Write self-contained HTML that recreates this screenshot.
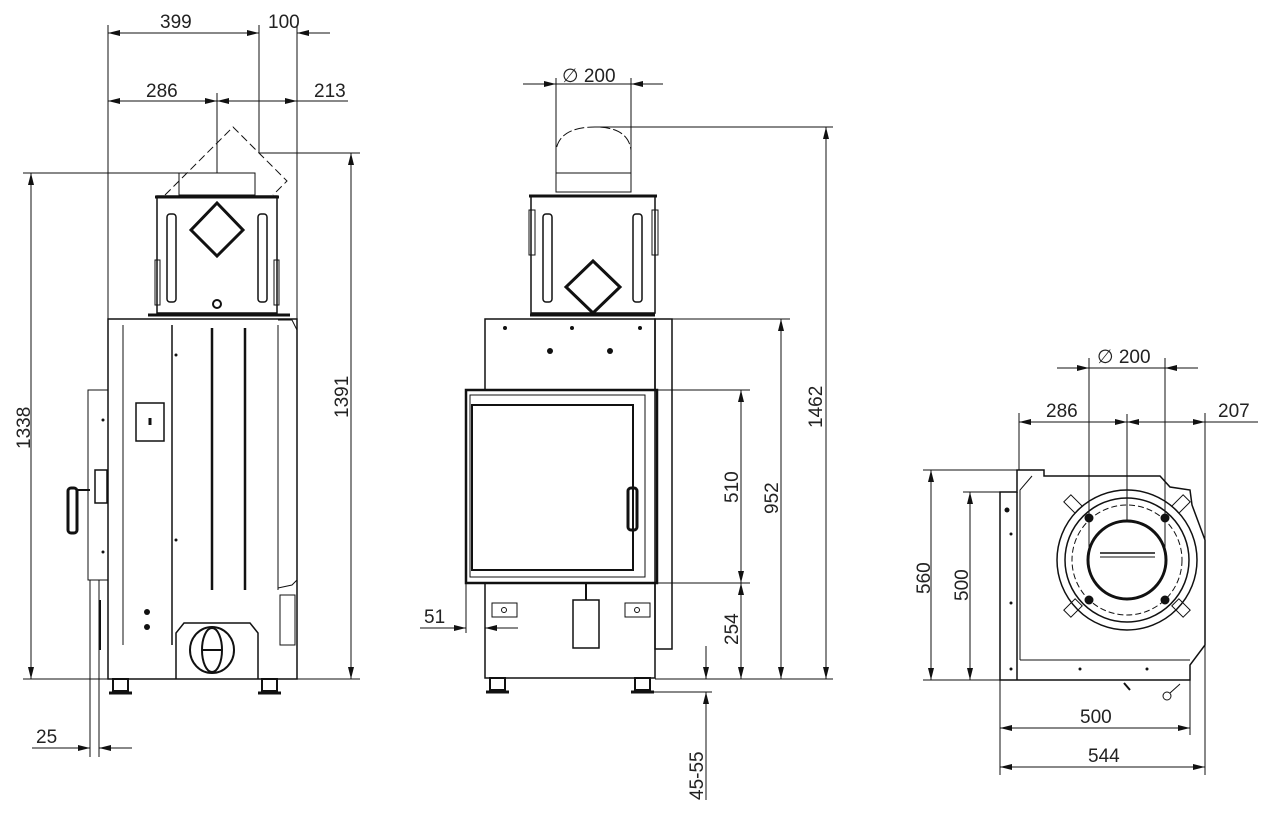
<!DOCTYPE html>
<html><head><meta charset="utf-8"><style>
html,body{margin:0;padding:0;background:#fff;}
svg{display:block;}
text{font-family:"Liberation Sans",sans-serif;font-size:19px;fill:#222;}
</style></head><body>
<svg width="1263" height="813" viewBox="0 0 1263 813" xmlns="http://www.w3.org/2000/svg">
<defs>
<marker id="a" viewBox="0 0 12 6" refX="12" refY="3" markerWidth="12" markerHeight="6" orient="auto-start-reverse" markerUnits="userSpaceOnUse"><path d="M0,0 L12,3 L0,6 z" fill="#111"/></marker>
</defs>
<g stroke="#111" stroke-width="1" fill="none">
<line x1="108" y1="25" x2="108" y2="320"/>
<line x1="259" y1="25" x2="259" y2="153"/>
<line x1="297" y1="25" x2="297" y2="320"/>
<line x1="108" y1="33" x2="259" y2="33" marker-start="url(#a)" marker-end="url(#a)"/>
<line x1="330" y1="33" x2="297" y2="33" marker-end="url(#a)"/>
<line x1="108" y1="101" x2="217" y2="101" marker-start="url(#a)" marker-end="url(#a)"/>
<line x1="217" y1="101" x2="297" y2="101" marker-start="url(#a)" marker-end="url(#a)"/>
<line x1="297" y1="101" x2="348" y2="101"/>
<line x1="217" y1="93" x2="217" y2="173"/>
<line x1="259" y1="153" x2="360" y2="153"/>
<line x1="23" y1="173" x2="180" y2="173"/>
<line x1="23" y1="679" x2="360" y2="679"/>
<line x1="31" y1="173" x2="31" y2="679" marker-start="url(#a)" marker-end="url(#a)"/>
<line x1="351" y1="153" x2="351" y2="679" marker-start="url(#a)" marker-end="url(#a)"/>
<line x1="90" y1="580" x2="90" y2="757"/>
<line x1="99" y1="580" x2="99" y2="757"/>
<line x1="32" y1="748" x2="90" y2="748" marker-end="url(#a)"/>
<line x1="132" y1="748" x2="99" y2="748" marker-end="url(#a)"/>
<path d="M165,195 L233,127 L287,181 L273,195" stroke-dasharray="8,4"/>
<rect x="179" y="173" width="76" height="22"/>
<rect x="157" y="196" width="120" height="117" stroke-width="1.5"/>
<line x1="155" y1="197" x2="279" y2="197" stroke-width="3"/>
<path d="M217,203 L243,230 L217,256 L191,230 Z" stroke-width="3"/>
<rect x="167" y="214" width="9" height="88" rx="3" stroke-width="1.5"/>
<rect x="258" y="214" width="9" height="88" rx="3" stroke-width="1.5"/>
<rect x="155" y="260" width="5" height="45"/><rect x="274" y="260" width="5" height="45"/>
<circle cx="217" cy="304" r="4" stroke-width="2"/>
<line x1="148" y1="315" x2="290" y2="315" stroke-width="3"/>
<rect x="108" y="319" width="189" height="360" stroke-width="1.5"/>
<line x1="123" y1="325" x2="123" y2="645"/>
<line x1="172" y1="325" x2="172" y2="645" stroke-width="1.5"/>
<line x1="212" y1="328" x2="212" y2="590" stroke-width="2.5"/>
<line x1="245" y1="328" x2="245" y2="590" stroke-width="2.5"/>
<line x1="278" y1="325" x2="278" y2="590"/>
<path d="M278,320 L292,320 L297,330 L297,580 L292,585 L278,588"/>
<rect x="136" y="403" width="28" height="38" stroke-width="1.5"/>
<line x1="150" y1="418" x2="150" y2="425" stroke-width="3"/>
<rect x="88" y="390" width="20" height="190"/>
<rect x="95" y="470" width="12" height="33" stroke-width="1.5"/>
<rect x="68" y="488" width="9" height="45" rx="3" stroke-width="3"/>
<line x1="77" y1="490" x2="90" y2="490" stroke-width="2"/>
<path d="M176,679 L176,633 L184,623 L250,623 L258,633 L258,679" stroke-width="1.5"/>
<ellipse cx="212" cy="650" rx="22" ry="23" stroke-width="2"/>
<ellipse cx="212" cy="650" rx="10" ry="22" stroke-width="2"/>
<line x1="202" y1="650" x2="222" y2="650" stroke-width="2"/>
<line x1="100" y1="600" x2="100" y2="650" stroke-width="2"/>
<rect x="280" y="595" width="15" height="50"/>
<rect x="113" y="679" width="15" height="12" stroke-width="2"/><line x1="109" y1="693" x2="132" y2="693" stroke-width="3"/>
<rect x="262" y="679" width="15" height="12" stroke-width="2"/><line x1="258" y1="693" x2="281" y2="693" stroke-width="3"/>

<line x1="523" y1="84" x2="556" y2="84" marker-end="url(#a)"/>
<line x1="663" y1="84" x2="631" y2="84" marker-end="url(#a)"/>
<line x1="556" y1="84" x2="631" y2="84"/>
<line x1="556" y1="78" x2="556" y2="173"/>
<line x1="631" y1="78" x2="631" y2="173"/>
<path d="M556,173 L556,150 Q560,127 595,127 Q628,127 631,150" stroke-dasharray="10,3"/>
<line x1="595" y1="127" x2="833" y2="127"/>
<rect x="556" y="173" width="75" height="19"/>
<rect x="531" y="196" width="124" height="117" stroke-width="1.5"/>
<line x1="529" y1="196" x2="657" y2="196" stroke-width="3"/>
<rect x="543" y="214" width="9" height="88" rx="3" stroke-width="1.5"/>
<rect x="633" y="214" width="9" height="88" rx="3" stroke-width="1.5"/>
<rect x="529" y="210" width="6" height="45"/><rect x="652" y="210" width="6" height="45"/>
<path d="M593,261 L620,287 L593,313 L566,287 Z" stroke-width="3"/>
<line x1="530" y1="315" x2="655" y2="315" stroke-width="3"/>
<rect x="485" y="319" width="170" height="71" stroke-width="1.5"/>
<rect x="655" y="319" width="17" height="330" stroke-width="1.5"/>
<rect x="466" y="390" width="191" height="193" stroke-width="2.5"/>
<rect x="472" y="405" width="161" height="165" stroke-width="2"/>
<rect x="470" y="395" width="175" height="182"/>
<rect x="628" y="488" width="9" height="42" rx="3" stroke-width="3"/>
<rect x="485" y="583" width="170" height="95" stroke-width="1.5"/>
<rect x="492" y="603" width="25" height="14"/><circle cx="504" cy="610" r="2.5"/>
<rect x="625" y="603" width="25" height="14"/><circle cx="637" cy="610" r="2.5"/>
<rect x="573" y="600" width="26" height="48" stroke-width="1.5"/>
<line x1="586" y1="583" x2="586" y2="600" stroke-width="2"/>
<rect x="490" y="678" width="15" height="12" stroke-width="2"/><line x1="486" y1="692" x2="509" y2="692" stroke-width="3"/>
<rect x="635" y="678" width="15" height="12" stroke-width="2"/><line x1="631" y1="692" x2="654" y2="692" stroke-width="3"/>
<line x1="672" y1="319" x2="790" y2="319"/>
<line x1="657" y1="390" x2="750" y2="390"/>
<line x1="657" y1="583" x2="750" y2="583"/>
<line x1="655" y1="679" x2="833" y2="679"/>
<line x1="650" y1="692" x2="712" y2="692"/>
<line x1="741" y1="390" x2="741" y2="583" marker-start="url(#a)" marker-end="url(#a)"/>
<line x1="741" y1="583" x2="741" y2="679" marker-start="url(#a)" marker-end="url(#a)"/>
<line x1="781" y1="319" x2="781" y2="679" marker-start="url(#a)" marker-end="url(#a)"/>
<line x1="826" y1="127" x2="826" y2="679" marker-start="url(#a)" marker-end="url(#a)"/>
<line x1="706" y1="646" x2="706" y2="679" marker-end="url(#a)"/>
<line x1="706" y1="800" x2="706" y2="692" marker-end="url(#a)"/>
<line x1="466" y1="583" x2="466" y2="633"/>
<line x1="420" y1="628" x2="466" y2="628" marker-end="url(#a)"/>
<line x1="518" y1="628" x2="485" y2="628" marker-end="url(#a)"/>

<line x1="1057" y1="368" x2="1089" y2="368" marker-end="url(#a)"/>
<line x1="1198" y1="368" x2="1165" y2="368" marker-end="url(#a)"/>
<line x1="1089" y1="368" x2="1165" y2="368"/>
<line x1="1089" y1="358" x2="1089" y2="560"/>
<line x1="1165" y1="358" x2="1165" y2="560"/>
<line x1="1019" y1="422" x2="1127" y2="422" marker-start="url(#a)" marker-end="url(#a)"/>
<line x1="1127" y1="422" x2="1205" y2="422" marker-start="url(#a)" marker-end="url(#a)"/>
<line x1="1205" y1="422" x2="1258" y2="422"/>
<line x1="1019" y1="413" x2="1019" y2="470"/>
<line x1="1205" y1="413" x2="1205" y2="775"/>
<line x1="1127" y1="414" x2="1127" y2="520"/>
<line x1="923" y1="470" x2="1020" y2="470"/>
<line x1="963" y1="492" x2="1000" y2="492"/>
<line x1="923" y1="680" x2="1000" y2="680"/>
<line x1="931" y1="470" x2="931" y2="680" marker-start="url(#a)" marker-end="url(#a)"/>
<line x1="970" y1="492" x2="970" y2="680" marker-start="url(#a)" marker-end="url(#a)"/>
<line x1="1000" y1="680" x2="1000" y2="775"/>
<line x1="1190" y1="670" x2="1190" y2="735"/>
<line x1="1000" y1="728" x2="1190" y2="728" marker-start="url(#a)" marker-end="url(#a)"/>
<line x1="1000" y1="767" x2="1205" y2="767" marker-start="url(#a)" marker-end="url(#a)"/>
<path d="M1000,492 L1017,492 L1017,470 L1044,470 L1044,476 L1160,476 L1170,487 L1190,490 L1192,505 L1205,540 L1205,645 L1190,665 L1190,680 L1000,680 Z" stroke-width="1.5"/>
<path d="M1020,660 L1020,490 L1032,476 M1020,660 L1190,660"/>
<line x1="1017" y1="492" x2="1017" y2="680" stroke-width="1.5"/>
<circle cx="1127" cy="560" r="70" stroke-width="1.5"/>
<circle cx="1127" cy="560" r="62" stroke-width="1.5"/>
<circle cx="1127" cy="560" r="55" stroke-dasharray="6,3"/>
<circle cx="1127" cy="560" r="39" stroke-width="3"/>
<line x1="1100" y1="553" x2="1155" y2="553" stroke-width="1.5"/>
<line x1="1100" y1="557" x2="1155" y2="557"/>
<circle cx="1089" cy="518" r="4" fill="#111"/><circle cx="1165" cy="518" r="4" fill="#111"/>
<circle cx="1089" cy="600" r="4" fill="#111"/><circle cx="1165" cy="600" r="4" fill="#111"/>
<rect x="1068" y="496" width="10" height="16" transform="rotate(-45 1073 504)"/>
<rect x="1176" y="496" width="10" height="16" transform="rotate(45 1181 504)"/>
<rect x="1068" y="600" width="10" height="16" transform="rotate(45 1073 608)"/>
<rect x="1176" y="600" width="10" height="16" transform="rotate(-45 1181 608)"/>
<circle cx="1167" cy="696" r="4"/>
<path d="M1170,693 L1180,684"/>
<line x1="1124" y1="683" x2="1130" y2="690" stroke-width="2"/>
</g>
<g fill="#111">
<circle cx="176" cy="355" r="1.5"/><circle cx="176" cy="540" r="1.5"/>
<circle cx="147" cy="612" r="3"/><circle cx="147" cy="627" r="3"/>
<circle cx="103" cy="420" r="1.5"/><circle cx="103" cy="552" r="1.5"/>
<circle cx="505" cy="328" r="2"/><circle cx="572" cy="328" r="2"/><circle cx="640" cy="328" r="2"/>
<circle cx="550" cy="351" r="3"/><circle cx="610" cy="351" r="3"/>
<circle cx="1011" cy="534" r="1.5"/><circle cx="1011" cy="603" r="1.5"/><circle cx="1011" cy="669" r="1.5"/>
<circle cx="1080" cy="669" r="1.5"/><circle cx="1147" cy="669" r="1.5"/>
<circle cx="1007" cy="510" r="2.5"/>
</g>
<g>
<text x="160" y="28">399</text>
<text x="268" y="28">100</text>
<text x="146" y="97">286</text>
<text x="314" y="97">213</text>
<text transform="translate(30,449) rotate(-90)">1338</text>
<text transform="translate(348,418) rotate(-90)">1391</text>
<text x="36" y="743">25</text>
<text x="562" y="82">∅ 200</text>
<text transform="translate(738,503) rotate(-90)">510</text>
<text transform="translate(778,514) rotate(-90)">952</text>
<text transform="translate(738,645) rotate(-90)">254</text>
<text transform="translate(822,428) rotate(-90)">1462</text>
<text transform="translate(703,800) rotate(-90)">45-55</text>
<text x="424" y="623">51</text>
<text x="1097" y="363">∅ 200</text>
<text x="1046" y="417">286</text>
<text x="1218" y="417">207</text>
<text transform="translate(930,594) rotate(-90)">560</text>
<text transform="translate(968,601) rotate(-90)">500</text>
<text x="1080" y="723">500</text>
<text x="1088" y="762">544</text>
</g>
</svg>
</body></html>
